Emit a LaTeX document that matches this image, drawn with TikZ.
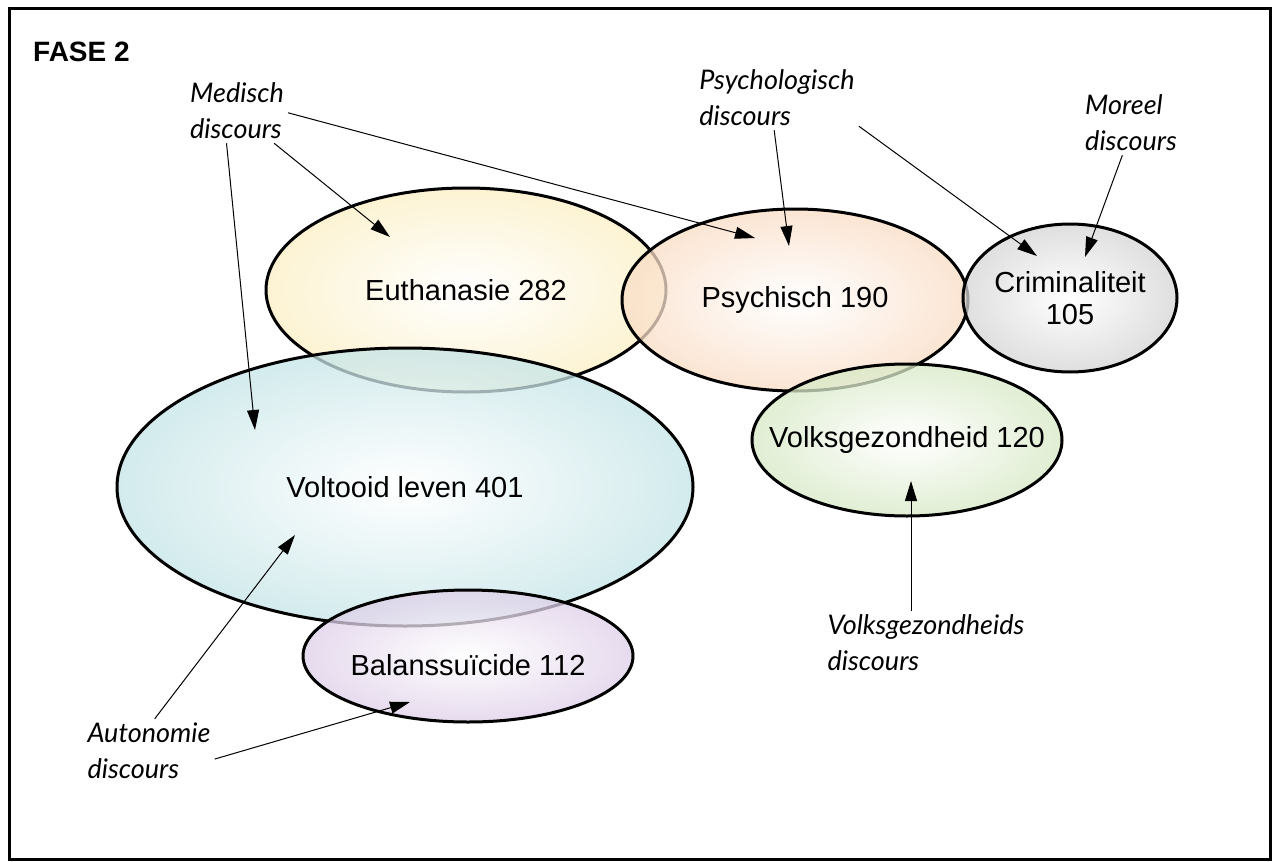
\documentclass[tikz,border=0pt]{standalone}
\usepackage{fontspec}
\setmainfont{Liberation Sans}
\newfontfamily\handfont{Lato}
\usetikzlibrary{shapes.geometric,arrows.meta,calc}
\definecolor{eutcol}{RGB}{252,239,196}
\definecolor{psycol}{RGB}{250,220,196}
\definecolor{cricol}{RGB}{212,212,212}
\definecolor{volcol}{RGB}{196,228,231}
\definecolor{vgzcol}{RGB}{214,232,196}
\definecolor{balcol}{RGB}{222,206,232}
\tikzset{
	blob/.style={ellipse,draw=black,line width=3pt,inner sep=0pt,inner color=white,fill opacity=0.75,text opacity=1},
	note/.style={font=\handfont\itshape\fontsize{27}{36}\selectfont,align=left,inner sep=4pt},
	pointer/.style={-{Triangle[length=20pt,width=12pt]},line width=1pt},
	every label/.style={font=\fontsize{29}{32}\selectfont,align=center,inner sep=0pt}
}
\begin{document}
\begin{tikzpicture}[x=1pt,y=-1pt]
	\useasboundingbox (0,0) rectangle (1275,862);
	\draw[line width=3pt] (9,8) rectangle (1270,859);
	\node[font=\bfseries\fontsize{28}{32}\selectfont,anchor=west,inner sep=0pt] (fase) at (33,52) {FASE 2};
	% ellipses, drawn bottom to top
	\node[blob,outer color=eutcol,minimum width=400,minimum height=204,label=center:{Euthanasie 282}] (eut) at (466,290) {};
	\node[blob,outer color=psycol,minimum width=346,minimum height=182,label=center:{Psychisch 190}] (psy) at (795,300) {};
	\node[blob,outer color=cricol,minimum width=214,minimum height=148,label=center:{Criminaliteit\\105}] (cri) at (1070,298) {};
	\node[blob,outer color=volcol,minimum width=576,minimum height=278,label=center:{Voltooid leven 401}] (vol) at (405,487) {};
	\node[blob,outer color=vgzcol,minimum width=310,minimum height=152,label=center:{Volksgezondheid 120}] (vgz) at (907,440) {};
	\node[blob,outer color=balcol,minimum width=330,minimum height=132,label={[yshift=-9pt]center:{Balanssuïcide 112}}] (bal) at (468,656) {};
	% discourses
	\node[note] (med) at (237,111) {Medisch\\discours};
	\node[note] (psyl) at (777,98) {Psychologisch\\discours};
	\node[note] (mor) at (1131,123) {Moreel\\discours};
	\node[note] (vgzl) at (926,643) {Volksgezondheids\\discours};
	\node[note] (aut) at (149,751) {Autonomie\\discours};
	\coordinate (eut-in) at ($(eut)+(-76,-53)$);
	\coordinate (psy-in1) at ($(psy)+(-40,-62)$);
	\coordinate (psy-in2) at ($(psy)+(-6,-54)$);
	\coordinate (cri-in1) at ($(cri)+(-33,-42)$);
	\coordinate (cri-in2) at ($(cri)+(15,-41)$);
	\coordinate (vol-in1) at ($(vol)+(-150,-57)$);
	\coordinate (vol-in2) at ($(vol)+(-110,48)$);
	\coordinate (vgz-in) at ($(vgz)+(4,41)$);
	\coordinate (bal-in) at ($(bal)+(-58,46)$);
	\draw[pointer] (med.319) -- (eut-in);
	\draw[pointer] (med.358) -- (psy-in1);
	\draw[pointer] (med.252) -- (vol-in1);
	\draw[pointer] (psyl.265) -- (psy-in2);
	\draw[pointer] (psyl.341) -- (cri-in1);
	\draw[pointer] (mor.255) -- (cri-in2);
	\draw[pointer] (vgzl.north -| vgz-in) -- (vgz-in);
	\draw[pointer] (aut.80) -- (vol-in2);
	\draw[pointer] (aut.353) -- (bal-in);
\end{tikzpicture}
\end{document}
